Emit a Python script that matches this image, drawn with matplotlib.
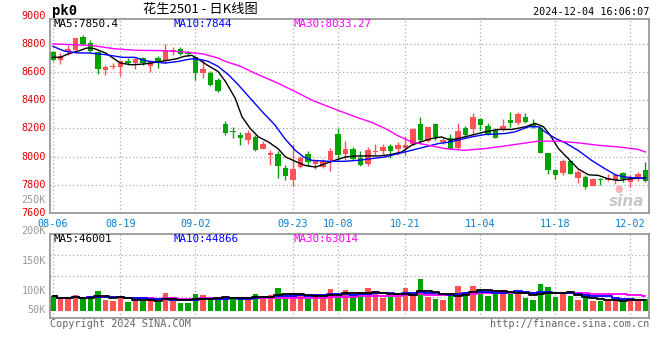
import matplotlib
matplotlib.use("Agg")
import matplotlib.pyplot as plt
import pandas as pd

# daily OHLC, 80 sessions 08-06 .. 12-04
opens = [8743, 8688, 8740, 8760, 8850, 8807, 8743, 8617, 8636, 8638,
         8681, 8667, 8700, 8645, 8702, 8676, 8743, 8767, 8736, 8705,
         8593, 8593, 8545, 8229, 8178, 8157, 8117, 8140, 8057, 8010,
         8021, 7919, 7831, 7926, 8019, 7950, 7926, 7979, 8162, 8021,
         8057, 7990, 7945, 8036, 8038, 8076, 8052, 8062, 8093, 8233,
         8110, 8229, 8105, 8133, 8064, 8200, 8193, 8264, 8217, 8188,
         8188, 8257, 8241, 8279, 8231, 8205, 8029, 7902, 7886, 7971,
         7850, 7857, 7795, 7843, 7836, 7831, 7883, 7819, 7843, 7902]
closes = [8688, 8717, 8764, 8843, 8802, 8752, 8624, 8633, 8640, 8676,
          8667, 8695, 8662, 8669, 8664, 8760, 8755, 8731, 8729, 8593,
          8624, 8510, 8469, 8171, 8174, 8129, 8171, 8045, 8093, 8029,
          7931, 7860, 7914, 7990, 7962, 7967, 7967, 8043, 8014, 8057,
          7986, 7938, 8050, 8040, 8071, 8038, 8081, 8086, 8193, 8117,
          8207, 8140, 8121, 8057, 8181, 8157, 8279, 8224, 8164, 8133,
          8219, 8236, 8300, 8248, 8212, 8029, 7907, 7867, 7971, 7879,
          7890, 7788, 7843, 7831, 7848, 7867, 7843, 7855, 7879, 7824]
highs = [8752, 8736, 8790, 8845, 8862, 8829, 8748, 8648, 8662, 8688,
         8700, 8705, 8705, 8681, 8712, 8802, 8776, 8776, 8752, 8712,
         8688, 8605, 8557, 8252, 8207, 8176, 8188, 8152, 8110, 8045,
         8038, 7938, 8093, 8002, 8041, 7979, 7986, 8064, 8200, 8114,
         8069, 8038, 8067, 8093, 8088, 8093, 8105, 8148, 8200, 8283,
         8212, 8236, 8140, 8164, 8241, 8219, 8307, 8271, 8236, 8205,
         8264, 8319, 8319, 8307, 8264, 8224, 8029, 7914, 7981, 7979,
         7902, 7867, 7850, 7850, 7879, 7879, 7890, 7871, 7890, 7962]
lows = [8681, 8660, 8724, 8755, 8795, 8743, 8586, 8581, 8624, 8571,
        8648, 8624, 8652, 8600, 8629, 8664, 8719, 8724, 8712, 8545,
        8557, 8502, 8457, 8157, 8129, 8086, 8093, 8038, 8052, 7943,
        7850, 7836, 7795, 7919, 7933, 7914, 7919, 7895, 7974, 7979,
        7974, 7933, 7933, 8014, 8021, 7990, 8014, 8010, 8081, 8093,
        8105, 8121, 8093, 8057, 8057, 8129, 8157, 8188, 8152, 8129,
        8181, 8212, 8224, 8236, 8200, 8029, 7879, 7843, 7867, 7879,
        7814, 7771, 7795, 7800, 7824, 7807, 7819, 7783, 7824, 7819]

# volume, thousand lots
volumes = [60, 50, 50, 64, 50, 58, 80, 44, 40, 57,
           36, 46, 40, 44, 40, 72, 46, 31, 31, 68,
           64, 52, 46, 56, 56, 56, 46, 68, 60, 64,
           93, 53, 72, 64, 50, 68, 61, 89, 60, 84,
           68, 72, 93, 76, 53, 58, 58, 93, 62, 129,
           56, 48, 44, 60, 101, 76, 101, 84, 60, 84,
           84, 80, 68, 53, 44, 109, 97, 56, 68, 60,
           44, 57, 40, 40, 44, 44, 44, 44, 49, 48]

# price moving averages (session index, value)
ma5_x = [0, 1, 2, 3.5, 4.5, 5.5, 7, 8, 9, 10.5, 12, 13, 15, 16.5, 17.5, 18.5, 19.5,
         20.5, 22, 23, 24.3, 25.2, 26.3, 27.4, 28.7, 30, 31, 32.3, 33.6, 35, 36.3,
         37.6, 39, 40.7, 43.4, 45, 46.5, 47.8, 49, 50.5, 51.8, 53, 54, 55.8, 57.6,
         59.4, 61.2, 63, 64.3, 65.4, 66.3, 67.4, 68.7, 70, 71.4, 72.7, 74, 75.4, 77, 79]
ma5_y = [8705, 8705, 8729, 8752, 8771, 8767, 8736, 8700, 8664, 8652, 8657, 8664, 8681,
         8695, 8712, 8719, 8688, 8652, 8605, 8533, 8414, 8283, 8200, 8140, 8105, 8057,
         7998, 7967, 7938, 7926, 7950, 7974, 7998, 8005, 8005, 8014, 8033, 8081, 8105,
         8129, 8140, 8117, 8129, 8152, 8176, 8193, 8193, 8212, 8236, 8212, 8152, 8057,
         7986, 7914, 7871, 7867, 7843, 7831, 7843, 7850]
ma10_x = [0, 0.7, 1.6, 3.4, 4.7, 7, 9.2, 10.9, 12.3, 13.6, 14.9, 16.7, 17.8, 18.7,
          19.8, 20.7, 22, 23.4, 24.7, 26.1, 27.9, 29.6, 30.9, 32.3, 33.4, 34.5, 36.7,
          38.9, 40.7, 42.5, 44.3, 46, 47.8, 49.6, 51.4, 53, 54, 55.8, 57.6, 60.3, 61.6,
          63.4, 64.7, 65.6, 67, 68.3, 70, 71.8, 73.6, 75, 76.3, 78, 79]
ma10_y = [8783, 8767, 8748, 8736, 8736, 8724, 8705, 8705, 8681, 8672, 8664, 8676, 8688,
          8695, 8688, 8676, 8641, 8581, 8510, 8426, 8319, 8224, 8129, 8045, 7998, 7974,
          7967, 7967, 7974, 7986, 7998, 8021, 8045, 8069, 8093, 8105, 8117, 8140, 8157,
          8164, 8176, 8212, 8212, 8176, 8129, 8098, 8045, 7974, 7914, 7871, 7855, 7848, 7844]
ma30_x = [0, 5, 8, 11, 15, 18, 20, 22, 23, 25, 26, 27.4, 30, 32.3, 34.5, 36.7, 38.5,
          40.3, 42.5, 44.3, 46, 47.8, 50.5, 52.3, 54.9, 57.6, 60.3, 62.5, 64.7, 67.4,
          70, 72.7, 75.4, 78, 79]
ma30_y = [8800, 8790, 8767, 8755, 8752, 8741, 8729, 8700, 8676, 8641, 8615, 8581, 8521,
          8462, 8402, 8355, 8319, 8283, 8243, 8200, 8148, 8105, 8076, 8057, 8045, 8057,
          8076, 8093, 8110, 8110, 8098, 8081, 8069, 8052, 8033]

date_labels = ["08-06", "08-19", "09-02", "09-23", "10-08", "10-21", "11-04", "11-18", "12-02"]
date_idx = [0, 9, 19, 32, 38, 47, 57, 67, 77]
price_labels = [9000, 8800, 8600, 8400, 8200, 8000, 7800, 7600]

RED = "#ff5252"
GREEN = "#00a300"
MONO = "DejaVu Sans Mono"
W, H = 660, 360


def fx(x):
    return x / W


def fy(y):
    return 1 - y / H


fig = plt.figure(figsize=(6.6, 3.6), dpi=100)
ax = fig.add_axes([fx(50), fy(213), 599 / W, 194 / H])
axv = fig.add_axes([fx(50), fy(318), 599 / W, 84 / H])

n = len(closes)
cols = [RED if c >= o else GREEN for o, c in zip(opens, closes)]

# candles
for i in range(n):
    o, c = opens[i], closes[i]
    lo, hi = min(o, c), max(o, c)
    if hi - lo < 7:
        hi = lo + 7
    ax.vlines(i, lows[i], highs[i], color=cols[i], lw=1)
    ax.bar(i, hi - lo, bottom=lo, width=0.76, color=cols[i], linewidth=0)

ax.plot(ma5_x, ma5_y, color="black", lw=1)
ax.plot(ma10_x, ma10_y, color="#0000ff", lw=1)
ax.plot(ma30_x, ma30_y, color="#ff00ff", lw=1)

ax.set_xlim(-0.4, n - 0.53)
ax.set_ylim(7600, 8977)
ax.set_yticks([7800, 8000, 8200, 8400, 8600, 8800])
ax.set_yticklabels([])
ax.set_xticks(date_idx)
ax.set_xticklabels(date_labels, family=MONO, fontsize=7.3, color="#0a7fd0")
ax.tick_params(axis="x", length=0, pad=4)
ax.tick_params(axis="y", length=0)
ax.grid(True, ls=(0, (1, 2)), color="#aaaaaa", lw=0.9)

for p in price_labels:
    ax.text(-0.007, p, str(p), transform=ax.get_yaxis_transform(), ha="right",
            va="center", family=MONO, fontsize=7.3, color="#e00000", clip_on=False)

# volume
vol = pd.Series(volumes, dtype=float)
axv.bar(range(n), volumes, width=0.76, color=cols, linewidth=0)
axv.plot(range(n), vol.rolling(30, min_periods=1).mean(), color="#ff00ff", lw=1.3, drawstyle="steps-mid")
axv.plot(range(n), vol.rolling(10, min_periods=1).mean(), color="#0000ff", lw=1.3, drawstyle="steps-mid")
axv.plot(range(n), vol.rolling(5, min_periods=1).mean(), color="black", lw=1.3, drawstyle="steps-mid")
axv.set_xlim(-0.4, n - 0.53)
axv.set_ylim(-28.6, 314)
axv.set_xticks(date_idx)
axv.set_xticklabels([])
axv.set_yticks([57.1, 142.9, 228.6])
axv.set_yticklabels([])
axv.tick_params(length=0)
axv.grid(True, ls=(0, (1, 2)), color="#aaaaaa", lw=0.9)

for a in (ax, axv):
    for s in a.spines.values():
        s.set_color("#999999")
        s.set_linewidth(1.3)
    a.set_axisbelow(True)

for lab, y in [("250K", 200), ("200K", 231), ("150K", 261), ("100K", 291), ("50K", 310)]:
    fig.text(fx(46), fy(y), lab, ha="right", va="center", family=MONO,
             fontsize=7.3, color="#999999")

# header texts
fig.text(fx(52), fy(11), "pk0", ha="left", va="center", family=MONO,
         fontsize=10, weight="bold", color="black")
fig.text(fx(200), fy(10), "花生2501 - 日K线图", ha="center", va="center",
         family=["Noto Sans CJK SC", "DejaVu Sans"], fontsize=9.5, color="black")
fig.text(fx(649), fy(12), "2024-12-04 16:06:07", ha="right", va="center",
         family=MONO, fontsize=7.3, color="black")

for txt, x, c in [("MA5:7850.4", 54, "black"), ("MA10:7844", 174, "#0000ff"),
                  ("MA30:8033.27", 294, "#ff00ff")]:
    fig.text(fx(x), fy(24), txt, ha="left", va="center", family=MONO, fontsize=7.8, color=c)
for txt, x, c in [("MA5:46001", 54, "black"), ("MA10:44866", 174, "#0000ff"),
                  ("MA30:63014", 294, "#ff00ff")]:
    fig.text(fx(x), fy(239), txt, ha="left", va="center", family=MONO, fontsize=7.8, color=c)

fig.text(fx(50), fy(324), "Copyright 2024 SINA.COM", ha="left", va="center",
         family=MONO, fontsize=7.3, color="#666666")
fig.text(fx(649), fy(324), "http://finance.sina.com.cn", ha="right", va="center",
         family=MONO, fontsize=7.3, color="#666666")

# sina watermark
fig.text(fx(627), fy(201), "sina", ha="center", va="center", fontsize=11,
         weight="bold", style="italic", color="#c8c8c8")
fig.text(fx(619), fy(189), "●", ha="center", va="center", fontsize=7, color="#f5b0b0")

fig.savefig("out.png", dpi=100, facecolor="white")
